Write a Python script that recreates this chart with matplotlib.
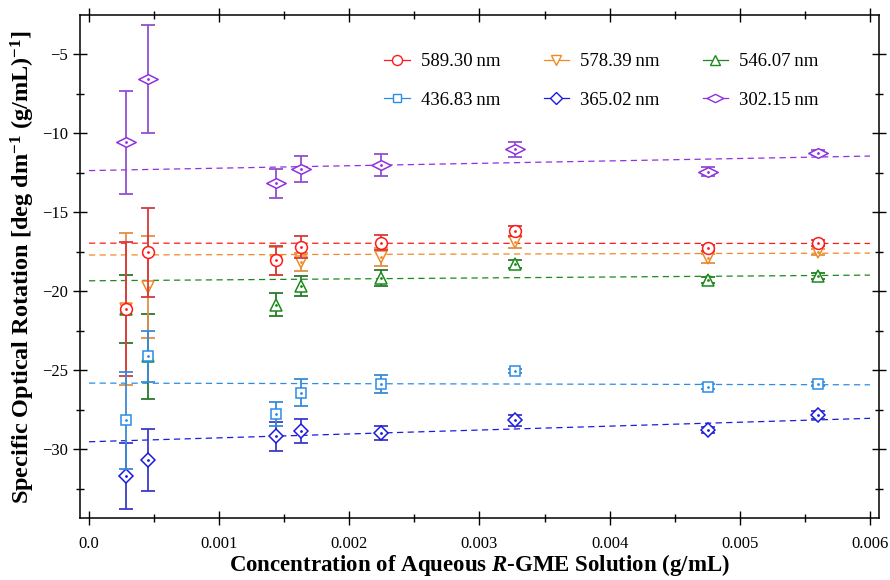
import numpy as np
import matplotlib
matplotlib.use("Agg")
import matplotlib.pyplot as plt
from matplotlib.lines import Line2D
from matplotlib.path import Path
from matplotlib.ticker import MultipleLocator

plt.rcParams['font.family'] = ['Liberation Serif', 'DejaVu Serif']
plt.rcParams['mathtext.fontset'] = 'custom'
plt.rcParams['mathtext.rm'] = 'Liberation Serif:bold'
plt.rcParams['mathtext.it'] = 'Liberation Serif:italic:bold'
plt.rcParams['mathtext.bf'] = 'Liberation Serif:bold'

# concentration (g/mL)
conc = [0.000282, 0.000456, 0.001440, 0.001627, 0.002244, 0.003269, 0.004754, 0.005602]

labels = ['589.30\u2009nm', '578.39\u2009nm', '546.07\u2009nm',
          '436.83\u2009nm', '365.02\u2009nm', '302.15\u2009nm']

rot_589 = [-21.13, -17.54, -18.05, -17.19, -16.94, -16.20, -17.25, -16.94]
err_589 = [4.24, 2.80, 0.90, 0.68, 0.47, 0.32, 0.20, 0.20]
rot_578 = [-21.13, -19.74, -18.10, -18.14, -17.84, -16.90, -17.92, -17.54]
err_578 = [4.79, 3.24, 0.90, 0.57, 0.55, 0.35, 0.30, 0.20]
rot_546 = [-21.13, -24.12, -20.84, -19.66, -19.16, -18.28, -19.29, -19.02]
err_546 = [2.15, 2.67, 0.71, 0.62, 0.50, 0.28, 0.20, 0.20]
rot_436 = [-28.15, -24.10, -27.77, -26.42, -25.87, -25.05, -26.04, -25.87]
err_436 = [3.07, 1.61, 0.74, 0.85, 0.55, 0.15, 0.15, 0.15]
rot_365 = [-31.69, -30.68, -29.16, -28.85, -28.99, -28.15, -28.78, -27.83]
err_365 = [2.10, 1.96, 0.92, 0.75, 0.44, 0.35, 0.20, 0.25]
rot_302 = [-10.59, -6.60, -13.18, -12.27, -12.02, -11.03, -12.44, -11.24]
err_302 = [3.25, 3.42, 0.93, 0.82, 0.68, 0.46, 0.30, 0.15]

# linear fits: intercept, slope
fit_b = [-16.96, -17.71, -19.34, -25.81, -29.52, -12.37]
fit_m = [-3.3, 20.0, 60.0, -18.0, 247.0, 153.0]

colors = ['#ff1a1a', '#f08a24', '#1a8a1a', '#2b8ce8', '#1a1ae0', '#9030e0']
bar_colors = ['#d83a3a', '#e09048', '#2a7a2a', '#3a8ad8', '#3a3ac8', '#9050d0']

wide_diamond = Path([(-1.0, 0.0), (0.0, 0.5), (1.0, 0.0), (0.0, -0.5), (-1.0, 0.0)],
                    [Path.MOVETO, Path.LINETO, Path.LINETO, Path.LINETO, Path.CLOSEPOLY])
markers = ['o', 'v', '^', 's', 'D', wide_diamond]
msizes = [8.5, 9, 9, 7.5, 7.5, 14]

rots = [rot_589, rot_578, rot_546, rot_436, rot_365, rot_302]
errs = [err_589, err_578, err_546, err_436, err_365, err_302]

fig = plt.figure(figsize=(8.9, 5.8), dpi=100)
ax = fig.add_axes([0.0899, 0.1064, 0.8977, 0.8672])

xfit = np.array([0.0, 0.006])
for i in range(6):
    ax.plot(xfit, fit_b[i] + fit_m[i] * xfit, ls=(0, (5, 3.5)), lw=0.9,
            color=colors[i], zorder=2)

order = [5, 2, 1, 0, 4, 3]
for k, i in enumerate(order):
    ax.errorbar(conc, rots[i], yerr=errs[i], fmt='none', ecolor=bar_colors[i],
                elinewidth=1.3, capsize=5, capthick=1.3, zorder=3 + k)
    ax.plot(conc, rots[i], ls='none', marker=markers[i], ms=msizes[i],
            mfc='white', mec=colors[i], mew=1.1, zorder=3 + k)
    ax.plot(conc, rots[i], ls='none', marker='.', ms=2, color=colors[i],
            zorder=3 + k)

ax.set_xlim(-0.000069, 0.006069)
ax.set_ylim(-34.36, -2.55)

ax.xaxis.set_minor_locator(MultipleLocator(0.0005))
ax.yaxis.set_major_locator(MultipleLocator(5))
ax.yaxis.set_minor_locator(MultipleLocator(2.5))
ax.set_xticks([0.0, 0.001, 0.002, 0.003, 0.004, 0.005, 0.006])
ax.set_xticklabels(['0.0', '0.001', '0.002', '0.003', '0.004', '0.005', '0.006'])
ax.tick_params(which='major', direction='inout', length=10, width=1,
               top=True, right=True, labelsize=12)
ax.tick_params(axis='x', which='major', pad=8)
ax.tick_params(which='minor', direction='inout', length=6, width=1,
               top=True, right=True)
for s in ax.spines.values():
    s.set_linewidth(1.1)

ax.set_xlabel(r'Concentration of Aqueous $\mathit{R}$-GME Solution (g/mL)',
              fontsize=16.5, fontweight='bold', labelpad=0)
ax.set_ylabel(r'Specific Optical Rotation [deg dm$^{-1}$ (g/mL)$^{-1}$]',
              fontsize=17.5, fontweight='bold', labelpad=4)

handles = []
for i in range(6):
    handles.append(Line2D([], [], color=colors[i], ls='-', lw=0.9,
                          marker=markers[i], ms=msizes[i] * 0.85, mfc='white',
                          mec=colors[i], mew=1.0))
# legend fills column-wise, reorder so rows read 589/578/546 then 436/365/302
leg_order = [0, 3, 1, 4, 2, 5]
ax.legend([handles[i] for i in leg_order], [labels[i] for i in leg_order],
          ncol=3, loc='upper left', bbox_to_anchor=(0.381, 0.925),
          borderaxespad=0, borderpad=0, frameon=False, fontsize=13.5,
          handlelength=1.35, handletextpad=0.6, columnspacing=2.3,
          labelspacing=1.15)

fig.savefig('out.png', dpi=100)
